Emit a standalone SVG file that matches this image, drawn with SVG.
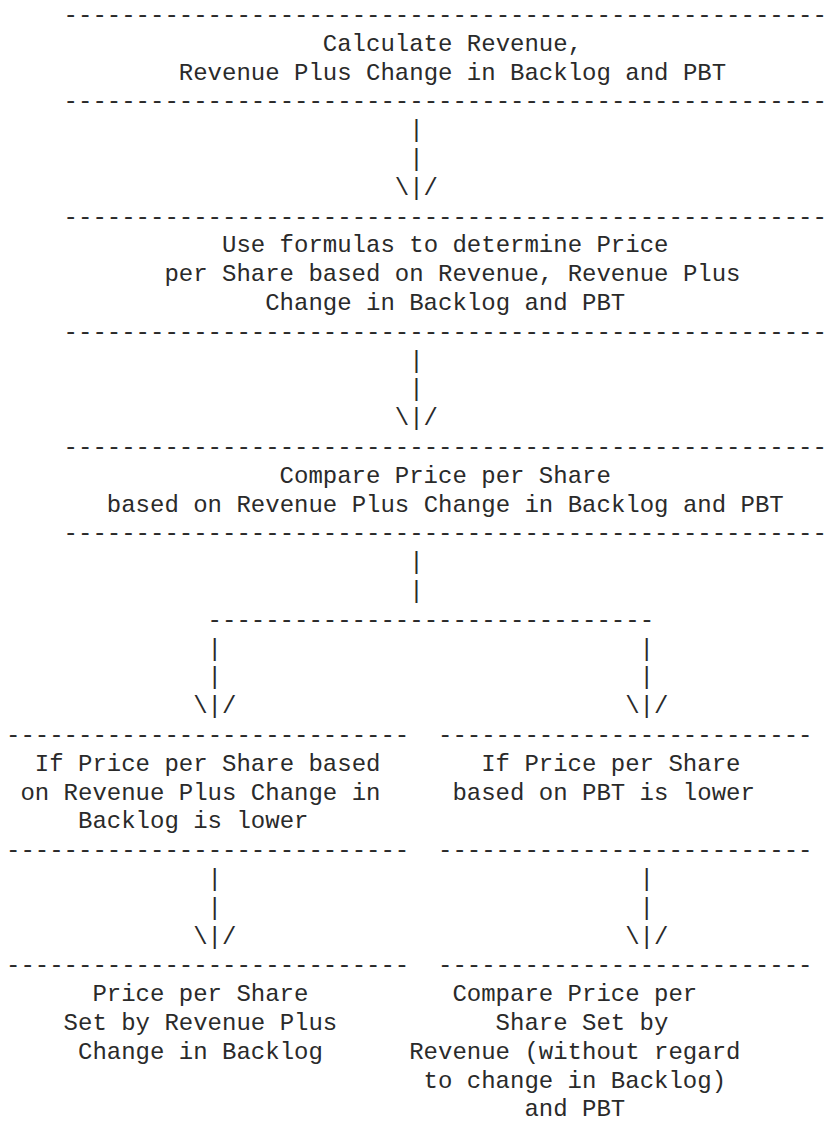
<svg xmlns="http://www.w3.org/2000/svg" width="831" height="1133" viewBox="0 0 831 1133">
<style>
.t{font-family:"Liberation Mono","Courier New",monospace;font-size:24px;fill:#2a2a2a;}
</style>
<rect width="831" height="1133" fill="#fff"/>
<g id="node-calculate">
<text class="t" x="63.6" y="22">-----------------------------------------------------</text>
<text class="t" x="322.8" y="50.8">Calculate Revenue,</text>
<text class="t" x="178.8" y="79.6">Revenue Plus Change in Backlog and PBT</text>
<text class="t" x="63.6" y="108.4">-----------------------------------------------------</text>
</g>
<g id="node-formulas">
<text class="t" x="63.6" y="223.6">-----------------------------------------------------</text>
<text class="t" x="222" y="252.4">Use formulas to determine Price</text>
<text class="t" x="164.4" y="281.2">per Share based on Revenue, Revenue Plus</text>
<text class="t" x="265.2" y="310">Change in Backlog and PBT</text>
<text class="t" x="63.6" y="338.8">-----------------------------------------------------</text>
</g>
<g id="node-compare">
<text class="t" x="63.6" y="454">-----------------------------------------------------</text>
<text class="t" x="279.6" y="482.8">Compare Price per Share</text>
<text class="t" x="106.8" y="511.6">based on Revenue Plus Change in Backlog and PBT</text>
<text class="t" x="63.6" y="540.4">-----------------------------------------------------</text>
</g>
<g id="node-if-backlog-lower">
<text class="t" x="6" y="742">----------------------------</text>
<text class="t" x="34.8" y="770.8">If Price per Share based</text>
<text class="t" x="20.4" y="799.6">on Revenue Plus Change in</text>
<text class="t" x="78" y="828.4">Backlog is lower</text>
<text class="t" x="6" y="857.2">----------------------------</text>
</g>
<g id="node-if-pbt-lower">
<text class="t" x="438" y="742">--------------------------</text>
<text class="t" x="481.2" y="770.8">If Price per Share</text>
<text class="t" x="452.4" y="799.6">based on PBT is lower</text>
<text class="t" x="438" y="857.2">--------------------------</text>
</g>
<g id="node-price-set">
<text class="t" x="6" y="972.4">----------------------------</text>
<text class="t" x="92.4" y="1001.2">Price per Share</text>
<text class="t" x="63.6" y="1030">Set by Revenue Plus</text>
<text class="t" x="78" y="1058.8">Change in Backlog</text>
</g>
<g id="node-compare-revenue-pbt">
<text class="t" x="438" y="972.4">--------------------------</text>
<text class="t" x="452.4" y="1001.2">Compare Price per</text>
<text class="t" x="495.6" y="1030">Share Set by</text>
<text class="t" x="409.2" y="1058.8">Revenue (without regard</text>
<text class="t" x="423.6" y="1087.6">to change in Backlog)</text>
<text class="t" x="524.4" y="1116.4">and PBT</text>
</g>
<g id="connectors">
<text class="t" x="409.2" y="137.2">|</text>
<text class="t" x="409.2" y="166">|</text>
<text class="t" x="394.8" y="194.8">\|/</text>
<text class="t" x="409.2" y="367.6">|</text>
<text class="t" x="409.2" y="396.4">|</text>
<text class="t" x="394.8" y="425.2">\|/</text>
<text class="t" x="409.2" y="569.2">|</text>
<text class="t" x="409.2" y="598">|</text>
<text class="t" x="207.6" y="626.8">-------------------------------</text>
<text class="t" x="207.6" y="655.6">|</text>
<text class="t" x="639.6" y="655.6">|</text>
<text class="t" x="207.6" y="684.4">|</text>
<text class="t" x="639.6" y="684.4">|</text>
<text class="t" x="193.2" y="713.2">\|/</text>
<text class="t" x="625.2" y="713.2">\|/</text>
<text class="t" x="207.6" y="886">|</text>
<text class="t" x="639.6" y="886">|</text>
<text class="t" x="207.6" y="914.8">|</text>
<text class="t" x="639.6" y="914.8">|</text>
<text class="t" x="193.2" y="943.6">\|/</text>
<text class="t" x="625.2" y="943.6">\|/</text>
</g>
</svg>
